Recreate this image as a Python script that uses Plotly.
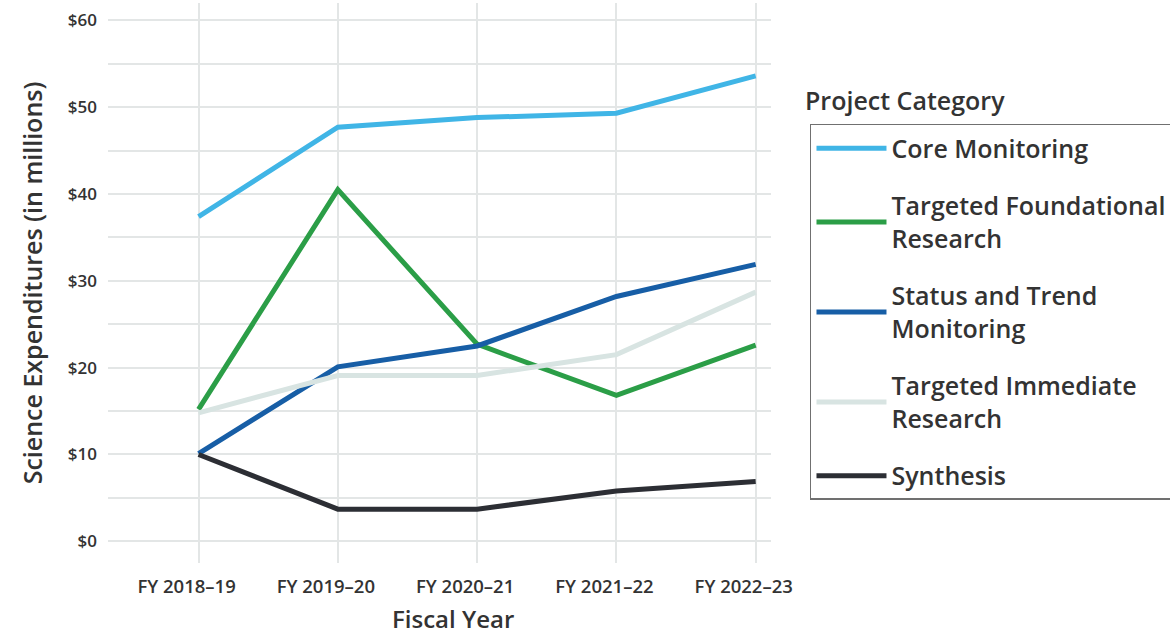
import plotly.graph_objects as go

years = ["FY 2018–19", "FY 2019–20", "FY 2020–21", "FY 2021–22", "FY 2022–23"]
core_monitoring = [37.4, 47.7, 48.8, 49.3, 53.6]
targeted_foundational = [15.2, 40.5, 22.7, 16.8, 22.6]
status_trend = [10.1, 20.1, 22.5, 28.2, 31.9]
targeted_immediate = [14.8, 19.1, 19.1, 21.5, 28.7]
synthesis = [10.0, 3.7, 3.7, 5.8, 6.9]

series = [
    ("Core Monitoring", core_monitoring, "#40b5e6"),
    ("Targeted Foundational<br>Research", targeted_foundational, "#2b9e47"),
    ("Status and Trend<br>Monitoring", status_trend, "#175ea6"),
    ("Targeted Immediate<br>Research", targeted_immediate, "#d8e4e2"),
    ("Synthesis", synthesis, "#2c2e34"),
]

y_tickvals = [0, 10, 20, 30, 40, 50, 60]
y_ticktext = ["$0", "$10", "$20", "$30", "$40", "$50", "$60"]

FONT = "Open Sans, Noto Sans, sans-serif"
TXT = "#333333"
GRID = "#e3e6e6"

fig = go.Figure()
# invisible helper trace on overlay axis for the $5 horizontal gridlines
fig.add_trace(go.Scatter(x=[years[0]], y=[0], yaxis="y2", mode="markers",
                         marker=dict(opacity=0), showlegend=False, hoverinfo="skip"))
for i, (name, vals, color) in enumerate(series):
    fig.add_trace(go.Scatter(
        x=years, y=vals, mode="lines", name=name,
        legendgroup=f"g{i}",
        line=dict(color=color, width=5),
        hovertemplate="%{x}: $%{y}M<extra></extra>",
    ))

fig.update_layout(
    width=1170, height=637,
    margin=dict(l=108, r=399, t=3, b=74, autoexpand=False),
    paper_bgcolor="white", plot_bgcolor="white",
    font=dict(family=FONT, color=TXT),
    showlegend=True,
    legend=dict(
        x=1.0588, y=0.784, xanchor="left", yanchor="top",
        bordercolor="#707070", borderwidth=1.5,
        font=dict(size=25, color=TXT, family=FONT, weight=600),
        traceorder="grouped", tracegroupgap=22,
        itemwidth=70,
    ),
    xaxis=dict(
        type="category", range=[-0.65, 4.11],
        showgrid=True, gridcolor=GRID, gridwidth=1.5,
        zeroline=False, showline=False,
        tickfont=dict(size=18.5, color=TXT, weight=600),
        ticklabelstandoff=10, ticklabelshift=-12,
    ),
    yaxis=dict(
        range=[-2.5, 62], tickvals=y_tickvals, ticktext=y_ticktext,
        showgrid=False, zeroline=False, showline=False,
        tickfont=dict(size=17, color=TXT, weight=600),
        ticklabelstandoff=10,
        title=dict(text="Science Expenditures (in millions)",
                   font=dict(size=25, color=TXT, weight=600), standoff=18),
    ),
    yaxis2=dict(
        overlaying="y", range=[-2.5, 62], dtick=5, tick0=0,
        showgrid=True, gridcolor=GRID, gridwidth=1.5,
        showticklabels=False, zeroline=False,
    ),
    annotations=[
        dict(text="Fiscal Year", xref="paper", yref="paper", x=0.52, y=-0.099,
             xanchor="center", yanchor="middle", showarrow=False,
             font=dict(size=24, color=TXT, family=FONT, weight=600)),
        dict(text="Project Category", xref="paper", yref="paper", x=1.0483, y=0.826,
             xanchor="left", yanchor="middle", showarrow=False,
             font=dict(size=25, color=TXT, family=FONT, weight=600)),
    ],
)

fig.write_html("out.html", post_script="document.body.style.margin='0';",
               config={"displayModeBar": False})
